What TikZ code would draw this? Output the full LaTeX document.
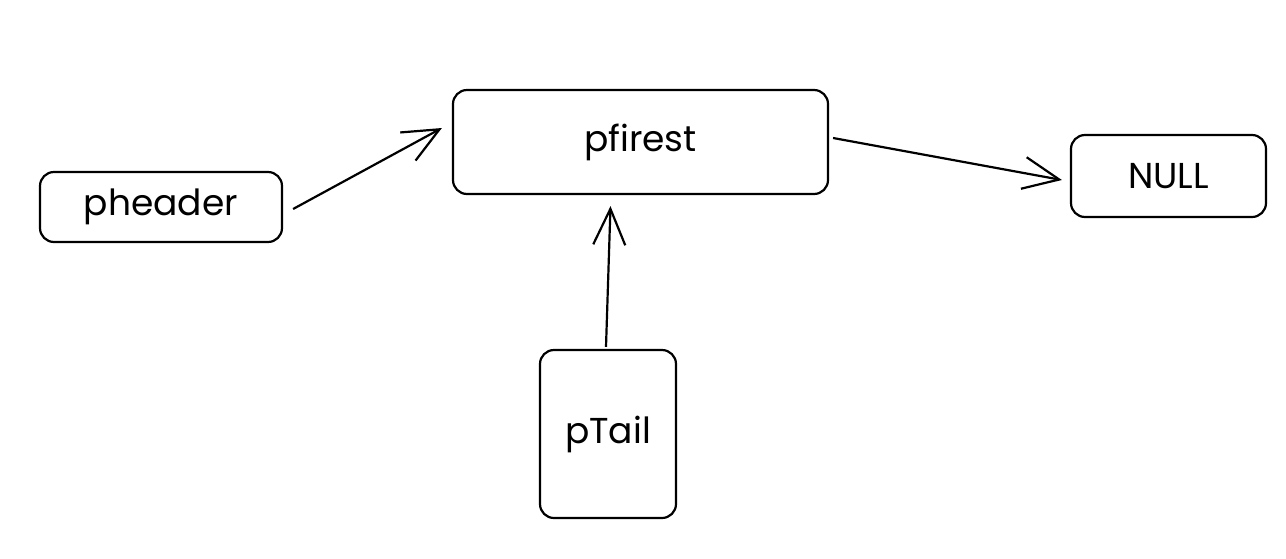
\documentclass[tikz,border=0pt]{standalone}
\usepackage{fontspec}
\setmainfont{Poppins}
\usetikzlibrary{arrows.meta}
\begin{document}
\begin{tikzpicture}[x=0.5pt,y=-0.5pt,
  box/.style={draw=black,line width=1.1pt,rounded corners=7pt,inner sep=0pt,font=\fontsize{18}{21}\selectfont},
  conn/.style={line width=1.1pt,-{Straight Barb[length=18pt,width=16pt,line width=1.1pt]}}]
\useasboundingbox (0,0) rectangle (1286,558);
\node[box,minimum width=121pt,minimum height=35pt] (ph) at (161,207) {\raisebox{-2pt}{pheader}};
\node[box,minimum width=187.5pt,minimum height=52pt] (pf) at (640.5,142) {\raisebox{-2pt}{pfirest}};
\node[box,minimum width=97.5pt,minimum height=41pt] (nu) at (1168.5,176) {\raisebox{-1pt}{NULL}};
\node[box,minimum width=68pt,minimum height=84pt] (pt) at (608,434) {\raisebox{-2pt}{pTail}};
\draw[conn] ([xshift=5pt,yshift=-1pt]ph.east) -- ([xshift=-5pt,yshift=7pt]pf.west);
\draw[conn] ([xshift=2pt,yshift=2pt]pf.east) -- ([xshift=-4pt,yshift=-2pt]nu.west);
\draw[conn] ([yshift=1pt,xshift=-1pt]pt.north) -- ([yshift=-5.5pt,xshift=-15pt]pf.south);
\end{tikzpicture}
\end{document}
